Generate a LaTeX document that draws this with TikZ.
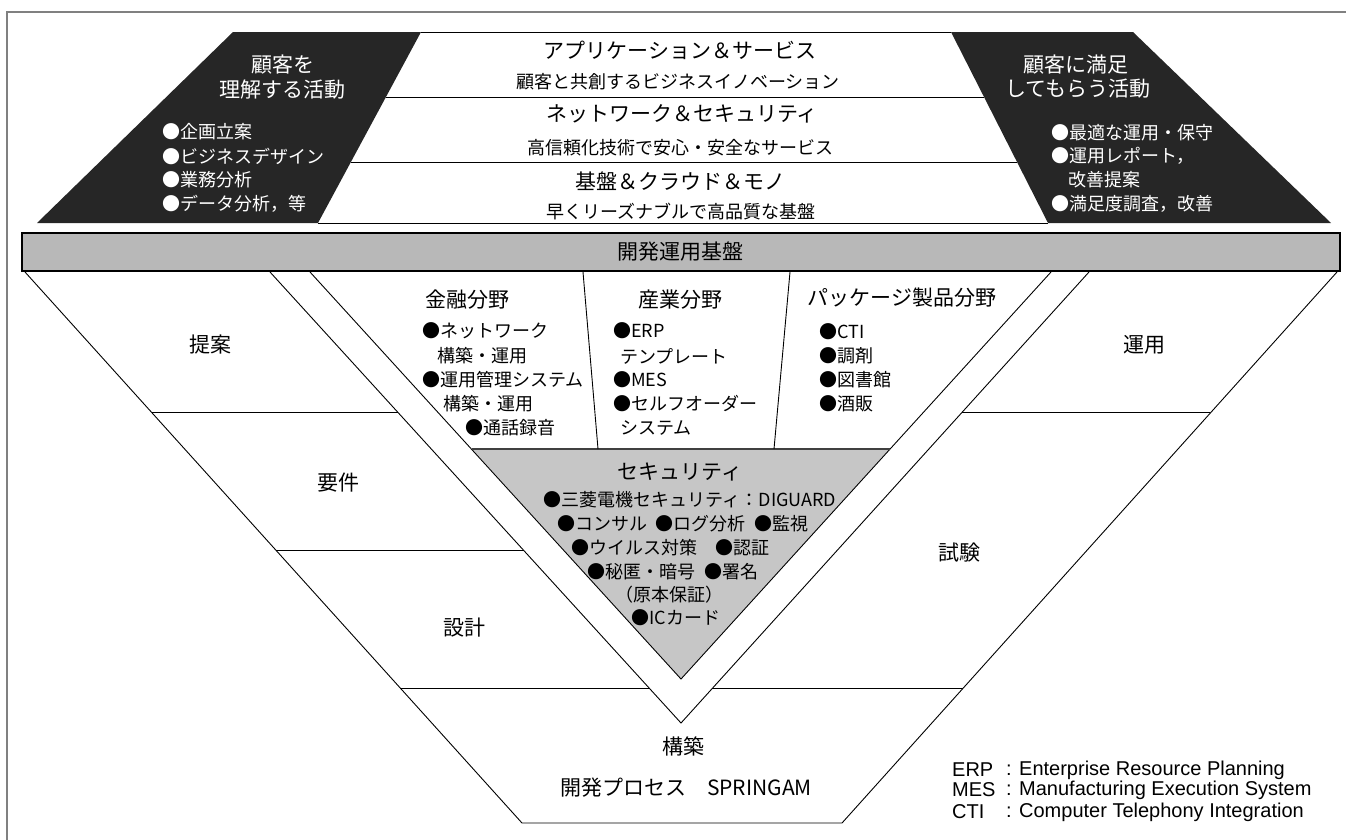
\documentclass[tikz,border=0pt]{standalone}
\usepackage{fontspec}
\setmainfont{Noto Sans CJK JP}
\newfontfamily\legfont{Liberation Sans}
\newcommand\fsz[1]{\fontsize{#1}{#1}\selectfont}
\newcommand\gapsp{\hspace{0.45em}}
\definecolor{darkfill}{HTML}{262626}
\definecolor{barfill}{HTML}{B8B8B8}
\definecolor{secfill}{HTML}{C6C6C6}
\definecolor{framec}{HTML}{808080}
\tikzset{
  ln/.style={draw=black, line width=0.9pt},
  tt/.style={inner sep=0pt, font=\fsz{21}},
  ts/.style={inner sep=0pt, font=\fsz{18}},
  tb/.style={inner sep=0pt, font=\fsz{18}, anchor=west},
  tsec/.style={inner sep=0pt, font=\fsz{18}},
  wt/.style={text=white},
  leg/.style={inner sep=0pt, anchor=west, font=\legfont\fsz{20}}
}
\begin{document}
\begin{tikzpicture}[x=1pt,y=-1pt]
\useasboundingbox (0,0) rectangle (1346,839);
% frame
\draw[framec, line width=1.5pt] (7,850) -- (7,12) -- (1350,12);
% top dark trapezoids
\fill[darkfill] (233,32) -- (421,32) -- (318,223) -- (37,223) -- cycle;
\fill[darkfill] (951,32) -- (1133,32) -- (1331,223) -- (1048,223) -- cycle;
\draw[ln] (421,32) -- (951,32);
\draw[ln] (386,97) -- (984,97);
\draw[ln] (351,162) -- (1017,162);
\draw[ln] (318,223) -- (1048,223);
% top texts
\node[tt] (t1) at (680,50) {アプリケーション＆サービス};
\node[ts] (t1s) at (678,82) {顧客と共創するビジネスイノベーション};
\node[tt] (t2) at (682,114) {ネットワーク＆セキュリティ};
\node[ts] (t2s) at (680,148) {高信頼化技術で安心・安全なサービス};
\node[tt] (t3) at (680,181) {基盤＆クラウド＆モノ};
\node[ts] (t3s) at (681,212) {早くリーズナブルで高品質な基盤};
% left dark texts
\node[tt,wt] (l1) at (283,65) {顧客を};
\node[tt,wt] (l2) at (282,90) {理解する活動};
\node[tb,wt] (lb1) at (162,132) {●企画立案};
\node[tb,wt] (lb2) at (162,156) {●ビジネスデザイン};
\node[tb,wt] (lb3) at (162,180) {●業務分析};
\node[tb,wt] (lb4) at (162,204) {●データ分析，等};
% right dark texts
\node[tt,wt] (r1) at (1076,65) {顧客に満足};
\node[tt,wt] (r2) at (1078,89) {してもらう活動};
\node[tb,wt] (rb1) at (1051,133) {●最適な運用・保守};
\node[tb,wt] (rb2) at (1051,156) {●運用レポート，};
\node[tb,wt] (rb3) at (1068,180) {改善提案};
\node[tb,wt] (rb4) at (1051,204) {●満足度調査，改善};
% bar
\draw[fill=barfill, draw=black, line width=2.6pt] (22,233) rectangle (1340,271);
\node[tt] (bar) at (680,252) {開発運用基盤};
% funnel
\fill[secfill] (472,449) -- (890,449) -- (681,679) -- cycle;
\draw[ln] (25,272) -- (522,823) -- (842,823) -- (1337,272);
\draw[ln] (270,272) -- (681,723) -- (1089,272);
\draw[ln] (310,272) -- (681,679) -- (1051,272);
\draw[draw=black!75, line width=1.5pt] (472,449) -- (890,449);
\draw[ln] (583,272) -- (598,449);
\draw[ln] (790,272) -- (774,449);
\draw[ln] (152,412) -- (398,412);
\draw[ln] (276,550) -- (524,550);
\draw[ln] (400,688) -- (649,688);
\draw[ln] (962,412) -- (1210,412);
\draw[ln] (712,688) -- (963,688);
% process labels
\node[tt] (p1) at (210,345) {提案};
\node[tt] (p2) at (338,483) {要件};
\node[tt] (p3) at (464,628) {設計};
\node[tt] (p4) at (683,746) {構築};
\node[tt] (p5) at (686,788) {開発プロセス　SPRINGAM};
\node[tt] (p6) at (1144,345) {運用};
\node[tt] (p7) at (959,553) {試験};
% fields
\node[tt] (f1) at (467,300) {金融分野};
\node[ts,anchor=west] (f1a) at (422,331) {●ネットワーク};
\node[ts,anchor=west] (f1b) at (437,356) {構築・運用};
\node[ts,anchor=west] (f1c) at (422,380) {●運用管理システム};
\node[ts,anchor=west] (f1d) at (443,404) {構築・運用};
\node[ts,anchor=west] (f1e) at (465,428) {●通話録音};
\node[tt] (f2) at (680,300) {産業分野};
\node[ts,anchor=west] (f2a) at (613,331) {●ERP};
\node[ts,anchor=west] (f2b) at (620,356) {テンプレート};
\node[ts,anchor=west] (f2c) at (613,380) {●MES};
\node[ts,anchor=west] (f2d) at (613,404) {●セルフオーダー};
\node[ts,anchor=west] (f2e) at (620,428) {システム};
\node[tt] (f3) at (902,298) {パッケージ製品分野};
\node[ts,anchor=west] (f3a) at (819,332) {●CTI};
\node[ts,anchor=west] (f3b) at (819,356) {●調剤};
\node[ts,anchor=west] (f3c) at (819,380) {●図書館};
\node[ts,anchor=west] (f3d) at (819,404) {●酒販};
% security
\node[tt] (s0) at (680,472) {セキュリティ};
\node[tsec] (s1) at (690,500) {●三菱電機セキュリティ：DIGUARD};
\node[tsec] (s2) at (683,524) {●コンサル\gapsp●ログ分析\gapsp●監視};
\node[tsec] (s3) at (670,548) {●ウイルス対策　●認証};
\node[tsec] (s4) at (673,572) {●秘匿・暗号\gapsp●署名};
\node[tsec] (s5) at (669,595) {（原本保証）};
\node[tsec] (s6) at (676,618) {●ICカード};
% legend
\node[leg] (g1) at (952,770) {ERP};
\node[leg] (g2) at (952,790) {MES};
\node[leg] (g3) at (952,812) {CTI};
\node[leg] (g1t) at (1006,770) {: Enterprise Resource Planning};
\node[leg] (g2t) at (1006,790) {: Manufacturing Execution System};
\node[leg] (g3t) at (1006,812) {: Computer Telephony Integration};
\end{tikzpicture}
\end{document}
